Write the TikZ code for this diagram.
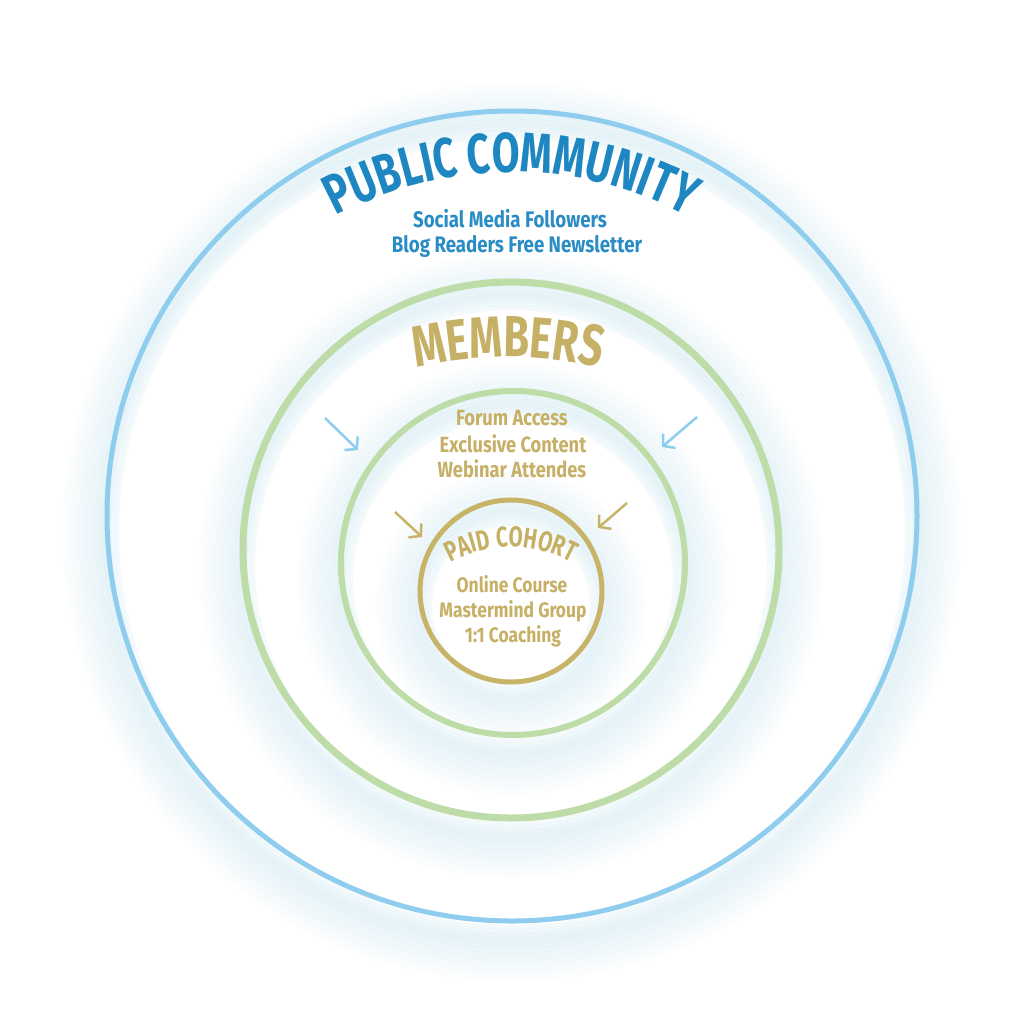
\documentclass[tikz,border=0pt]{standalone}
\usepackage{fontspec}
\newfontfamily\condfont[FakeStretch=0.83]{Fira Sans}
\newfontfamily\headfont[FakeStretch=0.72]{Fira Sans}
\usetikzlibrary{arrows.meta,decorations.text}
\definecolor{titleblue}{HTML}{1E86C0}
\definecolor{subblue}{HTML}{2A8CC4}
\definecolor{circblue}{HTML}{8ECDEE}
\definecolor{circgreen}{HTML}{BEDCA8}
\definecolor{circgold}{HTML}{C8B468}
\definecolor{goldtext}{HTML}{C6B066}
\definecolor{halocol}{RGB}{200,230,240}
\tikzset{
  ringblue/.style={draw=circblue, line width=5pt},
  ringgreen/.style={draw=circgreen, line width=7pt},
  ringgreenin/.style={draw=circgreen, line width=6pt},
  ringgold/.style={draw=circgold, line width=5pt},
  halo/.style={draw=halocol, line width=4.3pt},
  arrowblue/.style={draw=circblue, line width=2.5pt, -{Straight Barb[length=8pt,width=19pt]}},
  arrowgold/.style={draw=circgold, line width=2.5pt, -{Straight Barb[length=8pt,width=19pt]}},
  bluetxt/.style={text=subblue, font=\condfont\bfseries\fontsize{22.5}{25}\selectfont, anchor=base, inner sep=0pt},
  goldtxt/.style={text=goldtext, font=\condfont\bfseries\fontsize{22}{25}\selectfont, anchor=base, inner sep=0pt},
  paidtxt/.style={text=goldtext, font=\condfont\bfseries\fontsize{21}{25}\selectfont, anchor=base, inner sep=0pt},
}
\newcommand\glowring[2]{%
  \foreach \k in {0,...,13}{%
    \pgfmathsetmacro\rr{#2-10+4*\k}%
    \pgfmathsetmacro\op{ifthenelse(\k<3,0.2+0.08*\k,0.45*(1-(\k-3)/11))}%
    \draw[halo, draw opacity=\op] (#1) circle[radius=\rr pt];
  }%
}
\begin{document}
\begin{tikzpicture}[x=1pt,y=-1pt]
  \fill[white] (0,0) rectangle (1024,1024);
  \useasboundingbox (0,0) rectangle (1024,1024);
  % centres
  \coordinate (cb) at (512,516);
  \coordinate (cm) at (511,550);
  \coordinate (ci) at (513,563);
  \coordinate (cg) at (511,591);
  % glow centres (shifted down)
  \coordinate (gb) at (512,532);
  \coordinate (gm) at (511,566);
  \coordinate (gi) at (513,579);
  \coordinate (gg) at (511,605);
  % glows
  \glowring{gb}{405}
  \glowring{gm}{268}
  \glowring{gi}{172}
  \glowring{gg}{91}
  % rings
  \draw[ringblue] (cb) circle[radius=405pt];
  \draw[ringgreen] (cm) circle[radius=268pt];
  \draw[ringgreenin] (ci) circle[radius=172pt];
  \draw[ringgold] (cg) circle[radius=91pt];
  % curved titles
  \coordinate (ctitle) at (511,543);
  \path[decorate, decoration={text along path, text color=titleblue,
      text={|\headfont\bfseries\fontsize{56}{56}\selectfont|PUBLIC COMMUNITY}, text align=center}]
      (ctitle) ++(150:371pt) arc[start angle=150, end angle=30, radius=371pt];
  \coordinate (cmem) at (508,757);
  \path[decorate, decoration={text along path, text color=goldtext,
      text={|\headfont\bfseries\fontsize{58}{58}\selectfont|MEMBERS}, text align=center}]
      (cmem) ++(120:400pt) arc[start angle=120, end angle=60, radius=400pt];
  \coordinate (cpaid) at (511,672);
  \path[decorate, decoration={text along path, text color=goldtext,
      text={|\headfont\bfseries\fontsize{28.5}{28.5}\selectfont|PAID COHORT}, text align=center}]
      (cpaid) ++(150:125pt) arc[start angle=150, end angle=30, radius=125pt];
  % text lines
  \node[bluetxt] (pub1) at (510,227) {Social Media Followers};
  \node[bluetxt] (pub2) at (517,252) {Blog Readers Free Newsletter};
  \node[goldtxt] (mem1) at (512,425) {Forum Access};
  \node[goldtxt] (mem2) at (513,452) {Exclusive Content};
  \node[goldtxt] (mem3) at (512,477) {Webinar Attendes};
  \node[paidtxt] (paid1) at (512,592) {Online Course};
  \node[paidtxt] (paid2) at (513,617) {Mastermind Group};
  \node[paidtxt] (paid3) at (513,642) {1:1 Coaching};
  % arrows
  \coordinate (ab1s) at (325,418); \coordinate (ab1e) at (358,450);
  \coordinate (ab2s) at (697,417); \coordinate (ab2e) at (662,447);
  \coordinate (ag1s) at (395,512); \coordinate (ag1e) at (422,537);
  \coordinate (ag2s) at (627,503); \coordinate (ag2e) at (598,528);
  \draw[arrowblue] (ab1s) -- (ab1e);
  \draw[arrowblue] (ab2s) -- (ab2e);
  \draw[arrowgold] (ag1s) -- (ag1e);
  \draw[arrowgold] (ag2s) -- (ag2e);
\end{tikzpicture}
\end{document}
